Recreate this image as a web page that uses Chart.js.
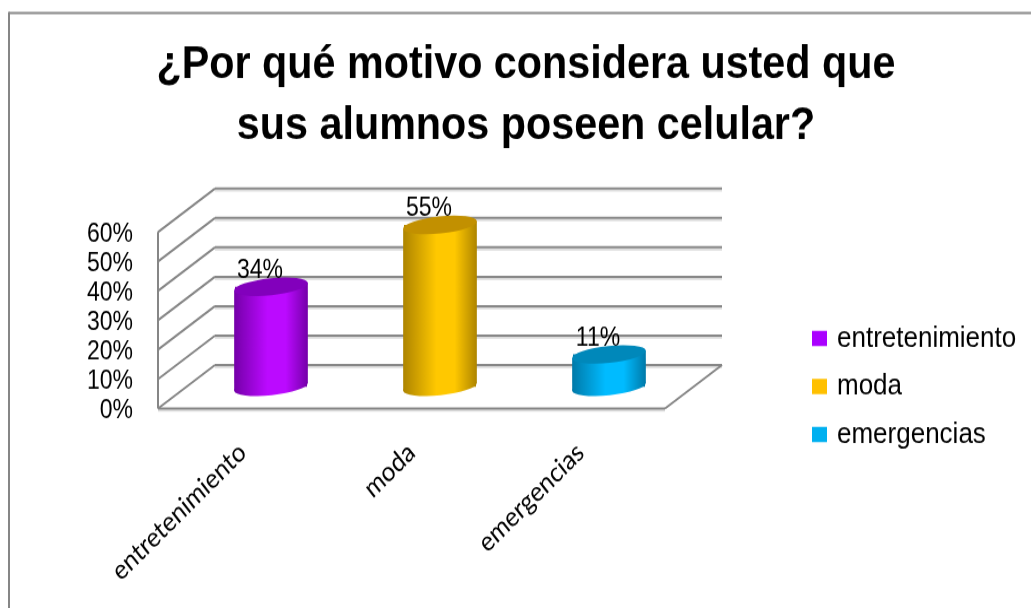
<!DOCTYPE html>
<html>
<head>
<meta charset="utf-8">
<title>Motivo celular</title>
<script src="https://cdn.jsdelivr.net/npm/chart.js@4/dist/chart.umd.min.js"></script>
<style>
    html, body { margin: 0; padding: 0; background: #fff; overflow: hidden; }
    #wrap { position: relative; width: 1031px; height: 608px; overflow: hidden; }
    /* the original picture is stretched in height, text included */
    #chart { transform: scaleY(1.13); transform-origin: 0 0; }
</style>
</head>
<body>
<div id="wrap"><canvas id="chart" width="1031" height="538"></canvas></div>
<script>
const categories = ["entretenimiento", "moda", "emergencias"];
const values = [34, 55, 11];
const titleLines = ["¿Por qué motivo considera usted que", "sus alumnos poseen celular?"];

// colours per bar: legend swatch, lit centre, shaded edge, top cap
const swatchColors = ["#AA00FF", "#FFC000", "#00B0F0"];
const centerColors = ["#BB0AFF", "#FFC800", "#00BBFF"];
const edgeColors = ["#7400A8", "#AD8400", "#0079A8"];
const capColors = ["#8200BC", "#C29000", "#0088BA"];

const sans = '"Liberation Sans", Arial, sans-serif';
const gridColor = "#868686";
const shadeColor = "#dddddd";

// fake 3D box: how far the back wall is shifted from the front plane
const depthX = 57;
const depthY = 38.5;
const barOffsetX = depthX / 2;
const barOffsetY = -depthY / 2;
const capRx = 37;
const capRy = 7.5;
const capTilt = -5.3 * Math.PI / 180;

const sideGradient = (ctx, x, i) => {
    const g = ctx.createLinearGradient(x - capRx, 0, x + capRx, 0);
    g.addColorStop(0, edgeColors[i]);
    g.addColorStop(0.45, centerColors[i]);
    g.addColorStop(0.7, centerColors[i]);
    g.addColorStop(1, edgeColors[i]);
    return g;
};

const line = (ctx, x1, y1, x2, y2) => {
    ctx.beginPath();
    ctx.moveTo(x1, y1);
    ctx.lineTo(x2, y2);
    ctx.stroke();
};

const cylinderPlugin = {
    id: "cylinder",
    afterLayout(chart) {
        // title is centred on the whole frame, legend sits right of the box
        chart.titleBlock.left = 0;
        chart.titleBlock.right = 1052;
        const legend = chart.legend;
        legend.left = 798.5;
        legend.right = 1031;
        legend.top = 142;
        legend.bottom = 542;
    },
    beforeDraw(chart) {
        const ctx = chart.ctx;
        ctx.save();
        ctx.strokeStyle = gridColor;
        ctx.lineWidth = 2;
        line(ctx, 9, 11.5, 1031, 11.5);
        line(ctx, 9, 10.5, 9, 538);
        ctx.restore();
    },
    beforeDatasetsDraw(chart) {
        const { ctx, scales: { y }, chartArea: area } = chart;
        ctx.save();
        ctx.lineWidth = 2;
        y.ticks.forEach((tick) => {
            const py = y.getPixelForValue(tick.value);
            ctx.strokeStyle = shadeColor;
            line(ctx, area.left + depthX, py - depthY + 1.8, area.right + depthX, py - depthY + 1.8);
            ctx.strokeStyle = gridColor;
            line(ctx, area.left + depthX, py - depthY, area.right + depthX, py - depthY);
            line(ctx, area.left, py, area.left + depthX, py - depthY);
        });
        const floor = y.getPixelForValue(0);
        ctx.strokeStyle = shadeColor;
        line(ctx, area.left, floor + 1.8, area.right, floor + 1.8);
        ctx.strokeStyle = gridColor;
        line(ctx, area.left, area.top, area.left, floor);
        line(ctx, area.left, floor, area.right, floor);
        line(ctx, area.right, floor, area.right + depthX, floor - depthY);
        ctx.restore();
    },
    beforeDatasetDraw(chart, args) {
        const ctx = chart.ctx;
        const y0 = chart.scales.y.getPixelForValue(0) + barOffsetY;
        const dx = capRx * Math.cos(capTilt);
        const dy = capRx * Math.sin(capTilt);
        // rounded bottom and slanted side under each bar
        args.meta.data.forEach((bar, i) => {
            const cx = bar.x + barOffsetX;
            const top = bar.y + barOffsetY;
            ctx.save();
            ctx.fillStyle = sideGradient(ctx, cx, i);
            ctx.beginPath();
            ctx.ellipse(cx, y0, capRx, capRy, capTilt, 0, Math.PI * 2);
            ctx.fill();
            ctx.beginPath();
            ctx.moveTo(cx - dx, top - dy);
            ctx.lineTo(cx + dx, top + dy);
            ctx.lineTo(cx + dx, y0 + dy);
            ctx.lineTo(cx - dx, y0 - dy);
            ctx.closePath();
            ctx.fill();
            ctx.restore();
        });
        ctx.save();
        ctx.translate(barOffsetX, barOffsetY);
    },
    afterDatasetDraw(chart, args) {
        const ctx = chart.ctx;
        ctx.restore();
        args.meta.data.forEach((bar, i) => {
            ctx.save();
            ctx.fillStyle = capColors[i];
            ctx.beginPath();
            ctx.ellipse(bar.x + barOffsetX, bar.y + barOffsetY, capRx, capRy, capTilt, 0, Math.PI * 2);
            ctx.fill();
            ctx.restore();
        });
    },
    afterDatasetsDraw(chart) {
        const ctx = chart.ctx;
        ctx.save();
        ctx.fillStyle = "#000";
        ctx.font = "23px " + sans;
        ctx.textAlign = "center";
        ctx.textBaseline = "middle";
        chart.getDatasetMeta(0).data.forEach((bar, i) => {
            ctx.fillText(values[i] + "%", bar.x + barOffsetX - 11, bar.y + barOffsetY - 14.2);
        });
        ctx.restore();
    }
};

new Chart(document.getElementById("chart"), {
    type: "bar",
    plugins: [cylinderPlugin],
    data: {
        labels: categories,
        datasets: [{
            label: "motivo",
            data: values,
            clip: false,
            borderWidth: 0,
            barPercentage: 1,
            categoryPercentage: 0.426,
            backgroundColor: (c) => {
                const x = c.chart.scales.x.getPixelForValue(c.dataIndex);
                return sideGradient(c.chart.ctx, x, c.dataIndex);
            }
        }]
    },
    options: {
        responsive: false,
        animation: false,
        layout: {
            autoPadding: false,
            padding: { left: 0, right: 366, top: 0, bottom: 0 }
        },
        scales: {
            x: {
                grid: { display: false, drawTicks: false },
                border: { display: false },
                afterFit: (scale) => { scale.height = 176.5; },
                ticks: {
                    autoSkip: false,
                    minRotation: 41.5,
                    maxRotation: 41.5,
                    padding: 24.5,
                    color: "#000",
                    font: { family: "Lato, sans-serif", size: 24 }
                }
            },
            y: {
                min: 0,
                max: 60,
                grid: { display: false, drawTicks: false },
                border: { display: false },
                afterFit: (scale) => { scale.width = 158; },
                ticks: {
                    autoSkip: false,
                    stepSize: 10,
                    padding: 25,
                    labelOffset: 2.6,
                    color: "#000",
                    font: { family: sans, size: 23 },
                    callback: (v) => v + "%"
                }
            }
        },
        plugins: {
            tooltip: { enabled: false },
            title: {
                display: true,
                text: titleLines,
                color: "#000",
                padding: { top: 30.5, bottom: 66.8 },
                font: { family: sans, size: 41.3, weight: "bold", lineHeight: "54px" }
            },
            legend: {
                display: true,
                position: "chartArea",
                labels: {
                    boxWidth: 9,
                    boxHeight: 7.3,
                    padding: 16.5,
                    color: "#000",
                    font: { family: sans, size: 26 },
                    generateLabels: () => categories.map((name, i) => ({
                        text: name,
                        fillStyle: swatchColors[i],
                        strokeStyle: swatchColors[i],
                        lineWidth: 6,
                        datasetIndex: 0,
                        index: i
                    }))
                }
            }
        }
    }
});
</script>
</body>
</html>
